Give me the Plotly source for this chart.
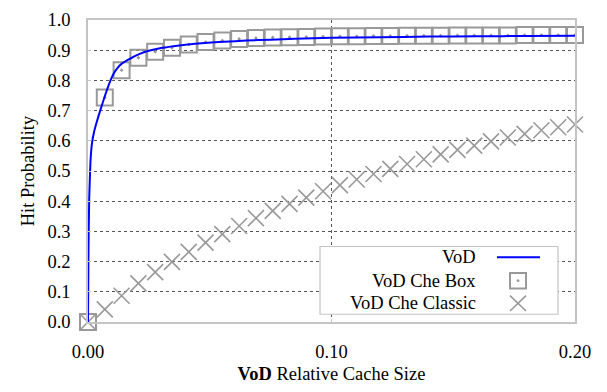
import plotly.graph_objects as go

# Relative cache size sampled for the Che approximations
cache_size = [i * 0.2 / 29 for i in range(30)]

che_box = [0.000, 0.743, 0.834, 0.875, 0.895, 0.908, 0.919, 0.927, 0.932, 0.937,
           0.940, 0.942, 0.943, 0.944, 0.945, 0.946, 0.946, 0.947, 0.947, 0.948,
           0.948, 0.948, 0.949, 0.949, 0.949, 0.949, 0.950, 0.950, 0.950, 0.950]

che_classic = [0.000, 0.042, 0.087, 0.128, 0.165, 0.199, 0.232, 0.263, 0.291, 0.318,
               0.344, 0.368, 0.391, 0.412, 0.433, 0.453, 0.472, 0.490, 0.507, 0.523,
               0.539, 0.555, 0.570, 0.584, 0.598, 0.611, 0.623, 0.635, 0.645, 0.654]

# Simulated VoD hit probability curve
vod_x = [0, 0.0002, 0.0005, 0.001, 0.0016, 0.0025, 0.0035, 0.005, 0.007, 0.009,
         0.0105, 0.012, 0.0135, 0.016, 0.018, 0.021, 0.025, 0.030, 0.035, 0.040,
         0.048, 0.056, 0.065, 0.075, 0.085, 0.100, 0.120, 0.140, 0.160, 0.180, 0.200]
vod_y = [0, 0.25, 0.41, 0.53, 0.59, 0.630, 0.660, 0.700, 0.750, 0.795,
         0.822, 0.840, 0.853, 0.866, 0.875, 0.887, 0.898, 0.907, 0.913, 0.918,
         0.924, 0.928, 0.932, 0.935, 0.938, 0.941, 0.943, 0.945, 0.946, 0.947, 0.948]

x_ticks = [0.0, 0.1, 0.2]
y_ticks = [round(0.1 * i, 1) for i in range(11)]
legend_labels = ["VoD", "VoD Che Box", "VoD Che Classic"]

FONT = "Liberation Serif"
GRAY = "#999999"
BLUE = "#0000ff"

fig = go.Figure()

fig.add_trace(go.Scatter(
    x=cache_size, y=che_classic, mode="markers", name=legend_labels[2],
    marker=dict(symbol="x-thin-open", size=16, color=GRAY,
                line=dict(color=GRAY, width=1.6)),
    cliponaxis=False, showlegend=False))

fig.add_trace(go.Scatter(
    x=cache_size, y=che_box, mode="markers", name=legend_labels[1],
    marker=dict(symbol="square-open-dot", size=16, color=GRAY,
                line=dict(color=GRAY, width=2)),
    cliponaxis=False, showlegend=False))

fig.add_trace(go.Scatter(
    x=vod_x, y=vod_y, mode="lines", name=legend_labels[0],
    line=dict(color=BLUE, width=2, shape="spline", smoothing=0.3),
    cliponaxis=False, showlegend=False))

axis_common = dict(
    showline=True, linecolor="#c4c4c4", linewidth=1.5, mirror=True,
    showgrid=True, gridcolor="#555555", gridwidth=1, griddash="dot",
    zeroline=False, ticks="inside", ticklen=3, tickcolor="#c4c4c4",
    tickfont=dict(family=FONT, size=18.5, color="black"),
)

fig.update_xaxes(range=[0, 0.2], tickvals=x_ticks, tickformat=".2f",
                 ticklabelstandoff=12,
                 title=dict(text="<b>VoD</b> Relative Cache Size",
                            font=dict(family=FONT, size=18.5, color="black"),
                            standoff=6),
                 **axis_common)
fig.update_yaxes(range=[0, 1.0], tickvals=y_ticks, tickformat=".1f",
                 ticklabelstandoff=12,
                 title=dict(text="Hit Probability",
                            font=dict(family=FONT, size=18.5, color="black"),
                            standoff=8),
                 **axis_common)

# Legend drawn as a box with right-aligned labels and symbols to their right
W, H = 487.0, 312.0
lx0, lx1, ly0, ly1 = 0.4764, 0.9651, 0.0256, 0.25
rows_y = [0.2147, 0.1369, 0.0619]
text_x = 0.8008
sym_x = 0.883
hx, hy = 8 / W, 8 / H

shapes = [dict(type="rect", xref="paper", yref="paper", x0=lx0, x1=lx1, y0=ly0, y1=ly1,
               line=dict(color="#c4c4c4", width=1.2), fillcolor="white", layer="above")]
shapes.append(dict(type="line", xref="paper", yref="paper", x0=0.8398, x1=0.9281,
                   y0=rows_y[0], y1=rows_y[0], line=dict(color=BLUE, width=2), layer="above"))
shapes.append(dict(type="rect", xref="paper", yref="paper",
                   x0=sym_x - hx, x1=sym_x + hx, y0=rows_y[1] - hy, y1=rows_y[1] + hy,
                   line=dict(color=GRAY, width=2), layer="above"))
shapes.append(dict(type="circle", xref="paper", yref="paper",
                   x0=sym_x - 1 / W, x1=sym_x + 1 / W, y0=rows_y[1] - 1 / H, y1=rows_y[1] + 1 / H,
                   line=dict(color=GRAY, width=1), fillcolor=GRAY, layer="above"))
for s in (1, -1):
    shapes.append(dict(type="line", xref="paper", yref="paper",
                       x0=sym_x - hx, x1=sym_x + hx,
                       y0=rows_y[2] - s * hy, y1=rows_y[2] + s * hy,
                       line=dict(color=GRAY, width=1.6), layer="above"))

annotations = [dict(xref="paper", yref="paper", x=text_x, y=yy, text=lab,
                    xanchor="right", yanchor="middle", showarrow=False,
                    font=dict(family=FONT, size=18.5, color="black"))
               for lab, yy in zip(legend_labels, rows_y)]

fig.update_layout(
    width=607, height=392,
    margin=dict(l=88, r=32, t=10, b=70),
    paper_bgcolor="white", plot_bgcolor="white",
    shapes=shapes, annotations=annotations,
    showlegend=False,
)

fig.write_html("out.html")
